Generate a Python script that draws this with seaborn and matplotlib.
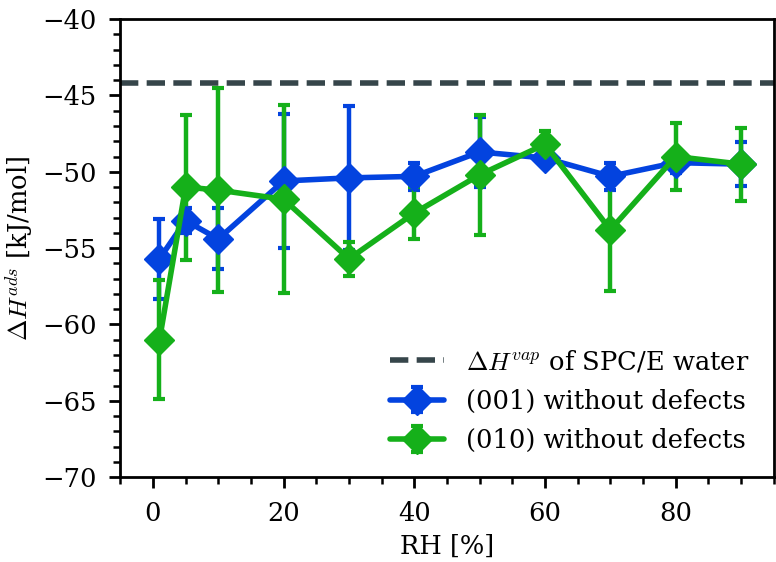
import matplotlib
matplotlib.use("Agg")
import matplotlib.pyplot as plt
import seaborn as sns
import pandas as pd
from matplotlib.ticker import MultipleLocator

rh = [1, 5, 10, 20, 30, 40, 50, 60, 70, 80, 90]
h001 = [-55.7, -53.2, -54.4, -50.6, -50.4, -50.3, -48.7, -49.1, -50.3, -49.4, -49.5]
err001 = [2.6, 0.8, 2.0, 4.4, 4.7, 0.9, 2.3, 0.3, 0.9, 0.7, 1.45]
h010 = [-61.0, -51.0, -51.2, -51.8, -55.7, -52.7, -50.2, -48.2, -53.8, -49.0, -49.5]
err010 = [3.9, 4.75, 6.7, 6.15, 1.1, 1.7, 3.95, 0.9, 4.0, 2.2, 2.4]
h_vap = -44.2

sns.set_style("ticks")
plt.rcParams["font.family"] = ["DejaVu Serif"]
plt.rcParams["mathtext.fontset"] = "cm"
plt.rcParams["font.size"] = 18.5
for k in ["text.color", "axes.labelcolor", "xtick.color", "ytick.color", "axes.edgecolor"]:
    plt.rcParams[k] = "black"

fig = plt.figure(figsize=(7.76, 5.62), dpi=100)
ax = fig.add_axes([0.155, 0.151, 0.842, 0.815])

blue = "#0343df"
green = "#15b01a"

ax.axhline(h_vap, linestyle="--", color="#36454a", linewidth=4, dashes=(3.3, 1.5),
           label=r"$\Delta H^{vap}$ of SPC/E water")
ax.errorbar(rh, h001, yerr=err001, fmt="-D", color=blue, linewidth=4, markersize=15,
            elinewidth=3.2, capsize=4.5, capthick=3, label="(001) without defects")
ax.errorbar(rh, h010, yerr=err010, fmt="-D", color=green, linewidth=4, markersize=15,
            elinewidth=3.2, capsize=4.5, capthick=3, label="(010) without defects")

ax.set_xlim(-5, 95)
ax.set_ylim(-70, -40)
ax.xaxis.set_major_locator(MultipleLocator(20))
ax.xaxis.set_minor_locator(MultipleLocator(5))
ax.yaxis.set_major_locator(MultipleLocator(5))
ax.yaxis.set_minor_locator(MultipleLocator(1))
ax.tick_params(which="major", direction="out", length=8, width=2, pad=9, labelsize=18.5)
ax.tick_params(which="minor", direction="out", length=5, width=1.8)
for s in ax.spines.values():
    s.set_linewidth(2)

ax.set_xlabel("RH [%]", fontsize=18.5, labelpad=6)
ax.set_ylabel(r"$\Delta H^{ads}$ [kJ/mol]", fontsize=18.5, labelpad=4)
ax.legend(loc="lower right", frameon=False, fontsize=18.5, handlelength=2.1,
          handletextpad=0.85, labelspacing=0.55, borderaxespad=0.55)

fig.savefig("out.png", dpi=100)
